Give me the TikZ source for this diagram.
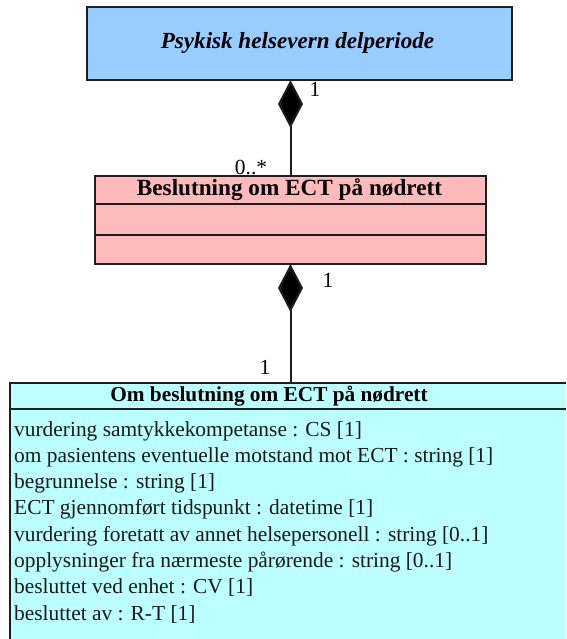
\documentclass[tikz,border=0pt]{standalone}
\usepackage{fontspec}
\setmainfont{Liberation Serif}
\usetikzlibrary{arrows.meta}
\definecolor{topblue}{RGB}{153,204,255}
\definecolor{pinkc}{RGB}{255,187,187}
\definecolor{cyanc}{RGB}{187,255,255}
\definecolor{edge}{RGB}{30,30,30}
\begin{document}
\begin{tikzpicture}[x=1pt,y=-1pt,
  box/.style={draw=edge, line width=2pt, inner sep=0pt, outer sep=0pt, anchor=north west},
  ttl/.style={font=\fontsize{21.3}{24}\selectfont\bfseries, inner sep=0pt},
  attr/.style={font=\fontsize{21.4}{26.3}\selectfont, align=left, inner sep=0pt, anchor=north west, text=black!90},
  mult/.style={font=\fontsize{21.5}{24}\selectfont, inner sep=0pt},
  comp/.style={draw=edge, line width=2pt, -{Diamond[length=48pt,width=25pt,fill=black]}}]
\useasboundingbox (0,0) rectangle (566,639);
\begin{scope}
\clip (0,0) rectangle (566,639);
% top class
\node[box, fill=topblue, minimum width=425pt, minimum height=73pt] (top) at (87,7) {};
\node[ttl, font=\fontsize{23.1}{26}\selectfont\bfseries\itshape] (toptitle) at (297.5,43) {Psykisk helsevern delperiode};
% middle class
\node[box, fill=pinkc, minimum width=391pt, minimum height=88pt] (mid) at (95,176) {};
\coordinate (m1w) at (95,204); \coordinate (m1e) at (486,204);
\coordinate (m2w) at (95,235); \coordinate (m2e) at (486,235);
\draw[edge, line width=2pt] (m1w) -- (m1e) (m2w) -- (m2e);
\node[ttl, font=\fontsize{23.2}{26}\selectfont\bfseries] (midtitle) at (289.5,190) {Beslutning om ECT på nødrett};
% bottom class
\node[box, fill=cyanc, minimum width=600pt, minimum height=300pt] (bot) at (10,383) {};
\coordinate (b1w) at (10,409); \coordinate (b1e) at (566,409);
\draw[edge, line width=2pt] (b1w) -- (b1e);
\node[ttl] (bottitle) at (269,396) {Om beslutning om ECT på nødrett};
\node[attr] (attrs) at (14,421) {vurdering samtykkekompetanse : CS [1]\\
om pasientens eventuelle motstand mot ECT : string [1]\\
begrunnelse : string [1]\\
ECT gjennomført tidspunkt : datetime [1]\\
vurdering foretatt av annet helsepersonell : string [0..1]\\
opplysninger fra nærmeste pårørende : string [0..1]\\
besluttet ved enhet : CV [1]\\
besluttet av : R-T [1]};
\end{scope}
% connectors
\draw[comp] (mid.north) -- (mid.north |- top.south);
\draw[comp] (bot.north -| mid.south) -- (mid.south);
% multiplicities
\node[mult] (m1) at (315,89) {1};
\node[mult] (m2) at (251,168) {0..*};
\node[mult] (m3) at (328,280) {1};
\node[mult] (m4) at (265,367) {1};
\end{tikzpicture}
\end{document}
